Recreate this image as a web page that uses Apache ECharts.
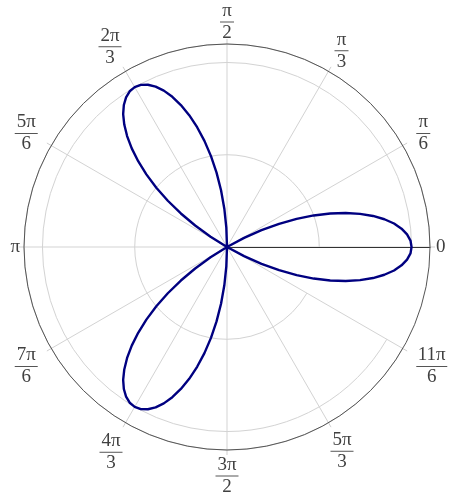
<!DOCTYPE html>
<html>
<head>
<meta charset="utf-8">
<script src="https://cdn.jsdelivr.net/npm/echarts@6/dist/echarts.min.js"></script>
<style>
html,body{margin:0;padding:0;background:#fff;}
#chart{width:457px;height:501px;}
</style>
</head>
<body>
<div id="chart"></div>
<script>
// Angle tick labels (every 30 degrees, counter-clockwise from the right)
const angleLabels = ['0', 'π/6', 'π/3', 'π/2', '2π/3', '5π/6', 'π', '7π/6', '4π/3', '3π/2', '5π/3', '11π/6'];
// Directions (degrees) of the three petal axes
const petalCenters = [0, 120, 240];
// Angle offsets (degrees) around a petal axis, and the radius read at each
const petalOffsets = [-30, -28, -26, -24, -22, -20, -18, -16, -14, -12, -10, -8, -6, -4, -2, 0,
                      2, 4, 6, 8, 10, 12, 14, 16, 18, 20, 22, 24, 26, 28, 30];
const petalRadii   = [0, 0.105, 0.208, 0.309, 0.407, 0.5, 0.588, 0.669, 0.743, 0.809, 0.866, 0.914, 0.951, 0.978, 0.995, 1,
                      0.995, 0.978, 0.951, 0.914, 0.866, 0.809, 0.743, 0.669, 0.588, 0.5, 0.407, 0.309, 0.208, 0.105, 0];

// label nudges [top, right, bottom, left] (layout only)
const labelPad = [
  [0, 0, 0, 2], [0, 0, -10, 10], [0, 0, -3, 4], [0, 0, -2, 0],
  [0, 2, 1, 0], [0, 10, -10, 0], [0, 0, 0, 0], [-4, 10, 0, 0],
  [6, 1, 0, 0], [2, 0, 0, 0], [5, 0, 0, 0], [-4, 0, 0, 10]
];

const curve = [];
petalCenters.forEach(c => {
  petalOffsets.forEach((o, i) => curve.push([petalRadii[i], c + o]));
});

const FONT = 'Liberation Serif';
const TXT = '#404040';
const txtStyle = { fontFamily: FONT, fontSize: 19, lineHeight: 18, color: TXT, align: 'center' };
const barStyle = w => ({ width: w, height: 1, lineHeight: 4, backgroundColor: '#555', align: 'center' });

const chart = echarts.init(document.getElementById('chart'), null, { renderer: 'canvas' });
chart.setOption({
  animation: false,
  backgroundColor: '#fff',
  polar: [
    { center: [227, 247], radius: 203 },
    { center: [227, 247], radius: 203 }
  ],
  angleAxis: [
    {
      polarIndex: 0,
      type: 'category',
      data: angleLabels.map((v, i) => ({ value: v, textStyle: { padding: labelPad[i] } })),
      boundaryGap: false,
      startAngle: 0,
      clockwise: false,
      axisLine: { show: false },
      axisTick: { show: true, interval: 0, length: 5, lineStyle: { color: '#cfcfcf' } },
      splitLine: { show: true, interval: 0, lineStyle: { color: '#d3d3d3', width: 1 } },
      axisLabel: {
        show: true,
        interval: 0,
        margin: 4,
        color: TXT,
        fontFamily: FONT,
        fontSize: 19,
        formatter: function (v) {
          if (v.indexOf('/') < 0) return '{s|' + v + '}';
          const parts = v.split('/');
          return '{n|' + parts[0] + '}\n{b' + parts[0].length + '|}\n{n|' + parts[1] + '}';
        },
        rich: {
          s: txtStyle,
          n: txtStyle,
          b1: barStyle(14),
          b2: barStyle(23),
          b3: barStyle(31)
        }
      }
    },
    {
      polarIndex: 1,
      type: 'value',
      min: 0, max: 360,
      startAngle: 0,
      clockwise: false,
      axisLine: { show: true, lineStyle: { color: '#555', width: 1 } },
      axisTick: { show: false },
      axisLabel: { show: false },
      splitLine: { show: false }
    }
  ],
  radiusAxis: [
    {
      polarIndex: 0,
      type: 'value',
      min: 0, max: 1.1, interval: 0.5,
      axisLine: { show: true, lineStyle: { color: '#333', width: 1 } },
      axisTick: { show: false },
      axisLabel: { show: false },
      splitLine: { show: true, lineStyle: { color: '#d3d3d3', width: 1 } }
    },
    {
      polarIndex: 1,
      type: 'value',
      min: 0, max: 1.1,
      axisLine: { show: false },
      axisTick: { show: false },
      axisLabel: { show: false },
      splitLine: { show: false }
    }
  ],
  series: [
    {
      type: 'line',
      coordinateSystem: 'polar',
      polarIndex: 1,
      data: curve,
      symbol: 'none',
      smooth: false,
      clip: false,
      lineStyle: { color: '#000080', width: 2.4, join: 'round' },
      z: 5
    }
  ]
});
</script>
</body>
</html>
